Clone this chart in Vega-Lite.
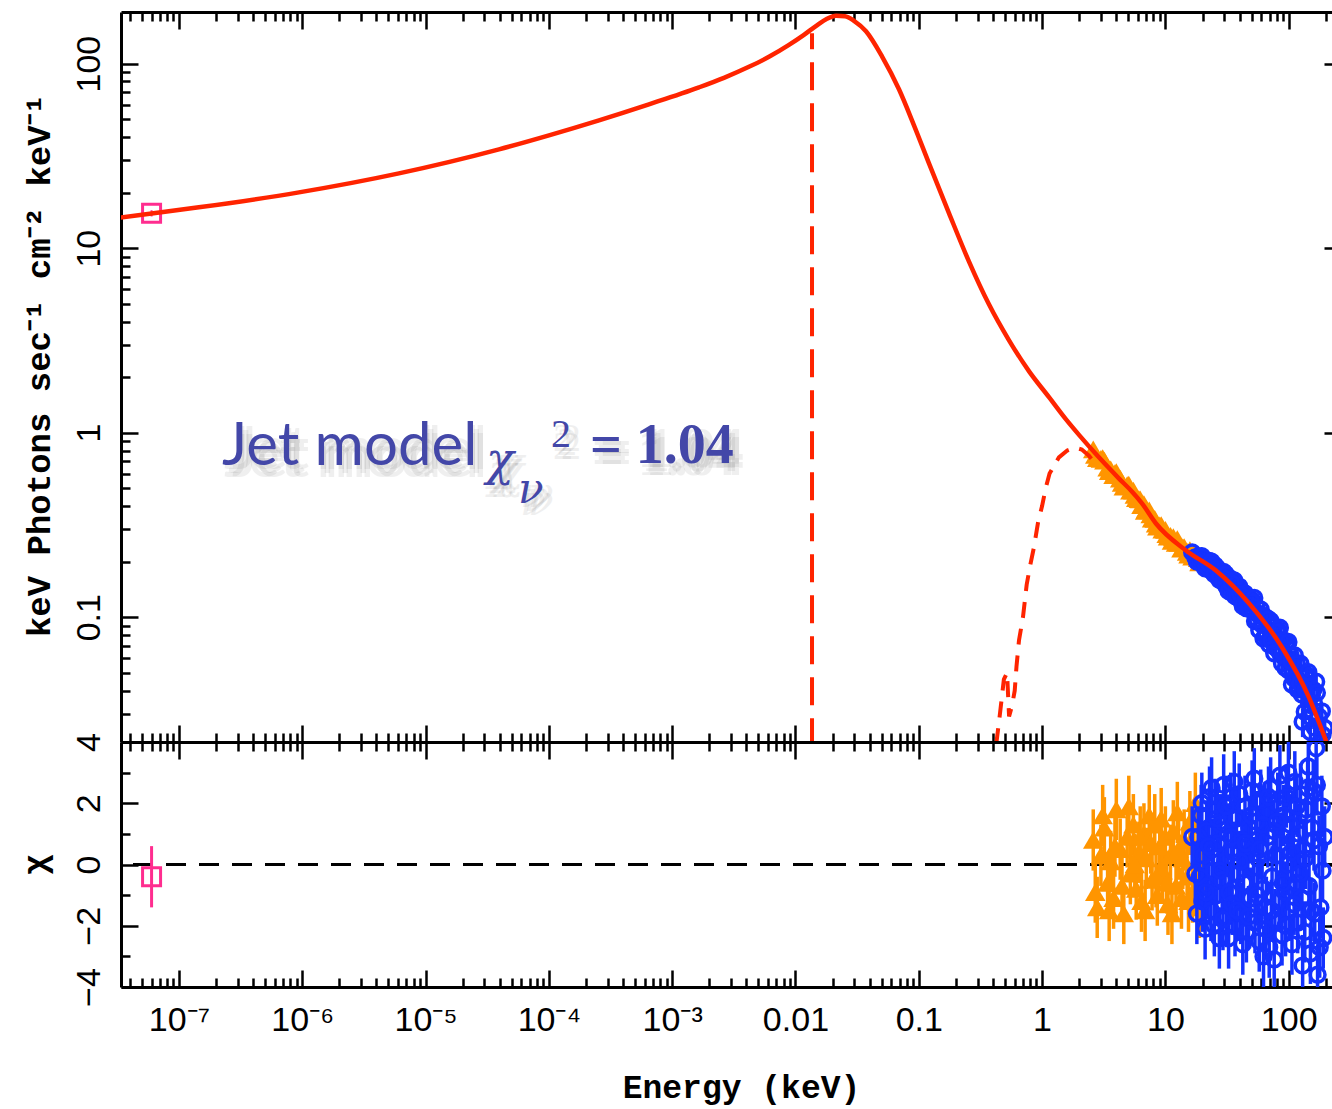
{
  "$schema": "https://vega.github.io/schema/vega-lite/v6.json",
  "background": "white",
  "padding": {"left": 18, "top": 10, "right": 0, "bottom": 4},
  "spacing": 0,
  "bounds": "flush",
  "config": {
    "view": {"stroke": null},
    "axis": {
      "grid": false,
      "domainColor": "black",
      "domainWidth": 3,
      "tickColor": "black",
      "tickWidth": 2.5,
      "labelColor": "black",
      "titleColor": "black",
      "labelOverlap": false,
      "labelBound": false,
      "labelFlush": false,
      "labelFont": "Liberation Sans",
      "labelFontSize": 34
    }
  },
  "datasets": {
    "model": [
      {"E": 3.0e-8, "F": 14.5}, {"E": 6.0e-8, "F": 15.4}, {"E": 1.45e-7, "F": 16.64},
      {"E": 9.4e-7, "F": 20.06}, {"E": 6.08e-6, "F": 25.43}, {"E": 3.94e-5, "F": 34.32},
      {"E": 1.002e-4, "F": 40.87}, {"E": 2.55e-4, "F": 49.28}, {"E": 6.48e-4, "F": 60.17},
      {"E": 1.65e-3, "F": 74.36}, {"E": 2.63e-3, "F": 83.76}, {"E": 4.196e-3, "F": 96.1},
      {"E": 6.098e-3, "F": 108.9}, {"E": 8.858e-3, "F": 126.4}, {"E": 0.01172, "F": 143.2},
      {"E": 0.01494, "F": 161.3}, {"E": 0.01801, "F": 174.9}, {"E": 0.02132, "F": 181.6},
      {"E": 0.02521, "F": 180.5}, {"E": 0.02982, "F": 170.6}, {"E": 0.03733, "F": 149.6},
      {"E": 0.0503, "F": 109.5}, {"E": 0.0691, "F": 72.56}, {"E": 0.09145, "F": 46.31},
      {"E": 0.121, "F": 28.81}, {"E": 0.176, "F": 15.44}, {"E": 0.255, "F": 8.48},
      {"E": 0.3707, "F": 4.96}, {"E": 0.5395, "F": 3.165}, {"E": 0.7847, "F": 2.149},
      {"E": 1.142, "F": 1.553}, {"E": 1.564, "F": 1.18}, {"E": 2.0, "F": 0.97},
      {"E": 2.89, "F": 0.735}, {"E": 4.21, "F": 0.564}, {"E": 5.35, "F": 0.48},
      {"E": 6.46, "F": 0.414}, {"E": 8.39, "F": 0.322}, {"E": 14.7, "F": 0.23},
      {"E": 25.7, "F": 0.179}, {"E": 47.6, "F": 0.119}, {"E": 88.2, "F": 0.0687},
      {"E": 146, "F": 0.0368}, {"E": 200, "F": 0.0215}, {"E": 240, "F": 0.0157}
    ],
    "cutoff": [{"E": 0.01362, "Flo": 0.02, "Fhi": 146}],
    "disk": [
      {"E": 0.425, "F": 0.0205}, {"E": 0.45, "F": 0.028}, {"E": 0.47, "F": 0.036},
      {"E": 0.49, "F": 0.046}, {"E": 0.52, "F": 0.05}, {"E": 0.54, "F": 0.029},
      {"E": 0.57, "F": 0.033}, {"E": 0.6, "F": 0.04}, {"E": 0.62, "F": 0.054},
      {"E": 0.65, "F": 0.075}, {"E": 0.7, "F": 0.1}, {"E": 0.75, "F": 0.15},
      {"E": 0.8, "F": 0.19}, {"E": 0.86, "F": 0.24}, {"E": 0.93, "F": 0.33},
      {"E": 1.0, "F": 0.4}, {"E": 1.07, "F": 0.5}, {"E": 1.15, "F": 0.6},
      {"E": 1.37, "F": 0.735}, {"E": 1.6, "F": 0.8}, {"E": 1.85, "F": 0.83},
      {"E": 2.1, "F": 0.81}, {"E": 2.4, "F": 0.75}, {"E": 2.8, "F": 0.66}
    ],
    "radio": [{"E": 6.0e-8, "F": 15.45, "Flo": 14.85, "Fhi": 16.05, "chi": -0.4, "chiLo": -1.4, "chiHi": 0.6}],
    "soft": [
      {"E": 2.6, "F": 0.812, "Flo": 0.792, "Fhi": 0.832, "chi": 0.8, "chiLo": -0.2, "chiHi": 1.8},
      {"E": 2.8, "F": 0.727, "Flo": 0.708, "Fhi": 0.746, "chi": -1.4, "chiLo": -2.4, "chiHi": -0.4},
      {"E": 3.0, "F": 0.721, "Flo": 0.703, "Fhi": 0.739, "chi": 0.3, "chiLo": -0.7, "chiHi": 1.3},
      {"E": 3.2, "F": 0.705, "Flo": 0.688, "Fhi": 0.722, "chi": 1.2, "chiLo": 0.2, "chiHi": 2.2},
      {"E": 3.4, "F": 0.646, "Flo": 0.630, "Fhi": 0.662, "chi": -0.6, "chiLo": -1.6, "chiHi": 0.4},
      {"E": 3.6, "F": 0.632, "Flo": 0.616, "Fhi": 0.648, "chi": 0.1, "chiLo": -0.9, "chiHi": 1.1},
      {"E": 3.8, "F": 0.588, "Flo": 0.573, "Fhi": 0.603, "chi": -1.1, "chiLo": -2.1, "chiHi": -0.1},
      {"E": 4.0, "F": 0.611, "Flo": 0.596, "Fhi": 0.626, "chi": 1.8, "chiLo": 0.8, "chiHi": 2.8},
      {"E": 4.3, "F": 0.563, "Flo": 0.549, "Fhi": 0.577, "chi": 0.5, "chiLo": -0.5, "chiHi": 1.5},
      {"E": 4.6, "F": 0.510, "Flo": 0.497, "Fhi": 0.523, "chi": -1.6, "chiLo": -2.6, "chiHi": -0.6},
      {"E": 4.9, "F": 0.520, "Flo": 0.507, "Fhi": 0.533, "chi": 0.9, "chiLo": -0.1, "chiHi": 1.9},
      {"E": 5.2, "F": 0.485, "Flo": 0.473, "Fhi": 0.497, "chi": -0.3, "chiLo": -1.3, "chiHi": 0.7},
      {"E": 5.5, "F": 0.485, "Flo": 0.473, "Fhi": 0.497, "chi": 1.3, "chiLo": 0.3, "chiHi": 2.3},
      {"E": 5.8, "F": 0.442, "Flo": 0.431, "Fhi": 0.453, "chi": -0.8, "chiLo": -1.8, "chiHi": 0.2},
      {"E": 6.1, "F": 0.437, "Flo": 0.426, "Fhi": 0.448, "chi": 0.4, "chiLo": -0.6, "chiHi": 1.4},
      {"E": 6.4, "F": 0.405, "Flo": 0.395, "Fhi": 0.415, "chi": -1.2, "chiLo": -2.2, "chiHi": -0.2},
      {"E": 6.7, "F": 0.410, "Flo": 0.400, "Fhi": 0.420, "chi": 1.0, "chiLo": 0.0, "chiHi": 2.0},
      {"E": 7.0, "F": 0.386, "Flo": 0.376, "Fhi": 0.396, "chi": 0.2, "chiLo": -0.8, "chiHi": 1.2},
      {"E": 7.4, "F": 0.379, "Flo": 0.370, "Fhi": 0.388, "chi": 1.6, "chiLo": 0.6, "chiHi": 2.6},
      {"E": 7.8, "F": 0.342, "Flo": 0.333, "Fhi": 0.351, "chi": -0.5, "chiLo": -1.5, "chiHi": 0.5},
      {"E": 8.2, "F": 0.341, "Flo": 0.333, "Fhi": 0.349, "chi": 1.3, "chiLo": 0.3, "chiHi": 2.3},
      {"E": 8.6, "F": 0.310, "Flo": 0.302, "Fhi": 0.318, "chi": -1.0, "chiLo": -2.0, "chiHi": 0.0},
      {"E": 9.0, "F": 0.314, "Flo": 0.306, "Fhi": 0.322, "chi": 0.6, "chiLo": -0.4, "chiHi": 1.6},
      {"E": 9.5, "F": 0.298, "Flo": 0.291, "Fhi": 0.305, "chi": -0.2, "chiLo": -1.2, "chiHi": 0.8},
      {"E": 10.0, "F": 0.297, "Flo": 0.290, "Fhi": 0.304, "chi": 0.9, "chiLo": -0.1, "chiHi": 1.9},
      {"E": 10.5, "F": 0.273, "Flo": 0.266, "Fhi": 0.280, "chi": -1.3, "chiLo": -2.3, "chiHi": -0.3},
      {"E": 11.0, "F": 0.276, "Flo": 0.269, "Fhi": 0.283, "chi": 0.3, "chiLo": -0.7, "chiHi": 1.3},
      {"E": 11.6, "F": 0.272, "Flo": 0.265, "Fhi": 0.279, "chi": 1.1, "chiLo": 0.1, "chiHi": 2.1},
      {"E": 12.2, "F": 0.253, "Flo": 0.247, "Fhi": 0.259, "chi": -0.7, "chiLo": -1.7, "chiHi": 0.3},
      {"E": 12.8, "F": 0.253, "Flo": 0.247, "Fhi": 0.259, "chi": 0.5, "chiLo": -0.5, "chiHi": 1.5},
      {"E": 13.5, "F": 0.235, "Flo": 0.229, "Fhi": 0.241, "chi": -1.1, "chiLo": -2.1, "chiHi": -0.1},
      {"E": 14.2, "F": 0.240, "Flo": 0.234, "Fhi": 0.246, "chi": 0.8, "chiLo": -0.2, "chiHi": 1.8},
      {"E": 15.0, "F": 0.226, "Flo": 0.220, "Fhi": 0.232, "chi": -0.4, "chiLo": -1.4, "chiHi": 0.6},
      {"E": 15.8, "F": 0.231, "Flo": 0.225, "Fhi": 0.237, "chi": 1.4, "chiLo": 0.4, "chiHi": 2.4},
      {"E": 16.6, "F": 0.213, "Flo": 0.208, "Fhi": 0.218, "chi": -0.9, "chiLo": -1.9, "chiHi": 0.1},
      {"E": 17.5, "F": 0.224, "Flo": 0.219, "Fhi": 0.229, "chi": 2.0, "chiLo": 1.0, "chiHi": 3.0},
      {"E": 18.4, "F": 0.209, "Flo": 0.204, "Fhi": 0.214, "chi": 0.1, "chiLo": -0.9, "chiHi": 1.1},
      {"E": 19.4, "F": 0.200, "Flo": 0.195, "Fhi": 0.205, "chi": -0.6, "chiLo": -1.6, "chiHi": 0.4},
      {"E": 2.7, "F": 0.757, "Flo": 0.738, "Fhi": 0.776, "chi": -0.9, "chiLo": -1.9, "chiHi": 0.1},
      {"E": 3.1, "F": 0.728, "Flo": 0.710, "Fhi": 0.746, "chi": 1.6, "chiLo": 0.6, "chiHi": 2.6},
      {"E": 3.5, "F": 0.619, "Flo": 0.603, "Fhi": 0.635, "chi": -1.5, "chiLo": -2.5, "chiHi": -0.5},
      {"E": 3.9, "F": 0.604, "Flo": 0.589, "Fhi": 0.619, "chi": 0.6, "chiLo": -0.4, "chiHi": 1.6},
      {"E": 4.45, "F": 0.534, "Flo": 0.520, "Fhi": 0.548, "chi": -0.7, "chiLo": -1.7, "chiHi": 0.3},
      {"E": 5.05, "F": 0.523, "Flo": 0.511, "Fhi": 0.535, "chi": 1.9, "chiLo": 0.9, "chiHi": 2.9},
      {"E": 5.65, "F": 0.460, "Flo": 0.448, "Fhi": 0.472, "chi": 0.0, "chiLo": -1.0, "chiHi": 1.0},
      {"E": 6.25, "F": 0.435, "Flo": 0.424, "Fhi": 0.446, "chi": 0.9, "chiLo": -0.1, "chiHi": 1.9},
      {"E": 6.85, "F": 0.377, "Flo": 0.367, "Fhi": 0.387, "chi": -1.5, "chiLo": -2.5, "chiHi": -0.5},
      {"E": 7.6, "F": 0.361, "Flo": 0.352, "Fhi": 0.370, "chi": 0.7, "chiLo": -0.3, "chiHi": 1.7},
      {"E": 8.4, "F": 0.321, "Flo": 0.313, "Fhi": 0.329, "chi": -0.4, "chiLo": -1.4, "chiHi": 0.6},
      {"E": 9.25, "F": 0.315, "Flo": 0.307, "Fhi": 0.323, "chi": 1.5, "chiLo": 0.5, "chiHi": 2.5},
      {"E": 10.25, "F": 0.282, "Flo": 0.275, "Fhi": 0.289, "chi": -0.6, "chiLo": -1.6, "chiHi": 0.4},
      {"E": 11.3, "F": 0.259, "Flo": 0.252, "Fhi": 0.266, "chi": -1.6, "chiLo": -2.6, "chiHi": -0.6},
      {"E": 12.5, "F": 0.265, "Flo": 0.259, "Fhi": 0.271, "chi": 1.7, "chiLo": 0.7, "chiHi": 2.7},
      {"E": 13.85, "F": 0.239, "Flo": 0.233, "Fhi": 0.245, "chi": 0.2, "chiLo": -0.8, "chiHi": 1.2},
      {"E": 15.4, "F": 0.218, "Flo": 0.212, "Fhi": 0.224, "chi": -1.2, "chiLo": -2.2, "chiHi": -0.2},
      {"E": 17.05, "F": 0.218, "Flo": 0.213, "Fhi": 0.223, "chi": 0.6, "chiLo": -0.4, "chiHi": 1.6},
      {"E": 18.9, "F": 0.198, "Flo": 0.193, "Fhi": 0.203, "chi": -1.4, "chiLo": -2.4, "chiHi": -0.4}
    ],
    "hard": [
      {"E": 16.5, "F": 0.2245, "Flo": 0.2179, "Fhi": 0.2311, "chi": 0.9, "chiLo": -0.1, "chiHi": 1.9},
      {"E": 17.5, "F": 0.2110, "Flo": 0.2046, "Fhi": 0.2174, "chi": -0.3, "chiLo": -1.3, "chiHi": 0.7},
      {"E": 18.5, "F": 0.2133, "Flo": 0.2071, "Fhi": 0.2195, "chi": 0.9, "chiLo": -0.1, "chiHi": 1.9},
      {"E": 19.0, "F": 0.2028, "Flo": 0.1966, "Fhi": 0.2090, "chi": -0.4, "chiLo": -1.4, "chiHi": 0.6},
      {"E": 19.5, "F": 0.2126, "Flo": 0.2065, "Fhi": 0.2187, "chi": 1.6, "chiLo": 0.6, "chiHi": 2.6},
      {"E": 20.0, "F": 0.1935, "Flo": 0.1875, "Fhi": 0.1995, "chi": -1.2, "chiLo": -2.2, "chiHi": -0.2},
      {"E": 20.5, "F": 0.2003, "Flo": 0.1943, "Fhi": 0.2063, "chi": 0.3, "chiLo": -0.7, "chiHi": 1.3},
      {"E": 21.0, "F": 0.1840, "Flo": 0.1781, "Fhi": 0.1899, "chi": -2.1, "chiLo": -3.1, "chiHi": -1.1},
      {"E": 21.6, "F": 0.2004, "Flo": 0.1946, "Fhi": 0.2062, "chi": 1.1, "chiLo": 0.1, "chiHi": 2.1},
      {"E": 22.2, "F": 0.1876, "Flo": 0.1819, "Fhi": 0.1933, "chi": -0.7, "chiLo": -1.7, "chiHi": 0.3},
      {"E": 22.8, "F": 0.2019, "Flo": 0.1962, "Fhi": 0.2076, "chi": 2.2, "chiLo": 1.2, "chiHi": 3.2},
      {"E": 23.4, "F": 0.1788, "Flo": 0.1732, "Fhi": 0.1844, "chi": -1.5, "chiLo": -2.5, "chiHi": -0.5},
      {"E": 24.0, "F": 0.1879, "Flo": 0.1823, "Fhi": 0.1935, "chi": 0.5, "chiLo": -0.5, "chiHi": 1.5},
      {"E": 24.6, "F": 0.1819, "Flo": 0.1764, "Fhi": 0.1874, "chi": -0.2, "chiLo": -1.2, "chiHi": 0.8},
      {"E": 25.3, "F": 0.1906, "Flo": 0.1852, "Fhi": 0.1960, "chi": 1.8, "chiLo": 0.8, "chiHi": 2.8},
      {"E": 26.0, "F": 0.1728, "Flo": 0.1675, "Fhi": 0.1781, "chi": -1.0, "chiLo": -2.0, "chiHi": 0.0},
      {"E": 26.7, "F": 0.1787, "Flo": 0.1734, "Fhi": 0.1840, "chi": 0.7, "chiLo": -0.3, "chiHi": 1.7},
      {"E": 27.4, "F": 0.1595, "Flo": 0.1543, "Fhi": 0.1647, "chi": -2.4, "chiLo": -3.4, "chiHi": -1.4},
      {"E": 28.1, "F": 0.1756, "Flo": 0.1705, "Fhi": 0.1807, "chi": 1.3, "chiLo": 0.3, "chiHi": 2.3},
      {"E": 28.9, "F": 0.1635, "Flo": 0.1585, "Fhi": 0.1685, "chi": -0.5, "chiLo": -1.5, "chiHi": 0.5},
      {"E": 29.7, "F": 0.1757, "Flo": 0.1708, "Fhi": 0.1806, "chi": 2.6, "chiLo": 1.6, "chiHi": 3.6},
      {"E": 30.5, "F": 0.1607, "Flo": 0.1543, "Fhi": 0.1671, "chi": 0.1, "chiLo": -0.9, "chiHi": 1.1},
      {"E": 31.3, "F": 0.1467, "Flo": 0.1404, "Fhi": 0.1530, "chi": -1.7, "chiLo": -2.7, "chiHi": -0.7},
      {"E": 32.1, "F": 0.1609, "Flo": 0.1547, "Fhi": 0.1671, "chi": 1.0, "chiLo": 0.0, "chiHi": 2.0},
      {"E": 33.0, "F": 0.1464, "Flo": 0.1403, "Fhi": 0.1525, "chi": -0.9, "chiLo": -1.9, "chiHi": 0.1},
      {"E": 33.9, "F": 0.1611, "Flo": 0.1551, "Fhi": 0.1671, "chi": 2.0, "chiLo": 1.0, "chiHi": 3.0},
      {"E": 34.8, "F": 0.1390, "Flo": 0.1331, "Fhi": 0.1449, "chi": -1.3, "chiLo": -2.3, "chiHi": -0.3},
      {"E": 35.7, "F": 0.1464, "Flo": 0.1406, "Fhi": 0.1522, "chi": 0.4, "chiLo": -0.6, "chiHi": 1.4},
      {"E": 36.7, "F": 0.1302, "Flo": 0.1245, "Fhi": 0.1359, "chi": -2.0, "chiLo": -3.0, "chiHi": -1.0},
      {"E": 37.7, "F": 0.1473, "Flo": 0.1417, "Fhi": 0.1529, "chi": 1.5, "chiLo": 0.5, "chiHi": 2.5},
      {"E": 38.7, "F": 0.1350, "Flo": 0.1295, "Fhi": 0.1405, "chi": -0.3, "chiLo": -1.3, "chiHi": 0.7},
      {"E": 39.7, "F": 0.1465, "Flo": 0.1411, "Fhi": 0.1519, "chi": 2.3, "chiLo": 1.3, "chiHi": 3.3},
      {"E": 40.8, "F": 0.1234, "Flo": 0.1181, "Fhi": 0.1287, "chi": -1.6, "chiLo": -2.6, "chiHi": -0.6},
      {"E": 41.9, "F": 0.1336, "Flo": 0.1284, "Fhi": 0.1388, "chi": 0.8, "chiLo": -0.2, "chiHi": 1.8},
      {"E": 43.0, "F": 0.1241, "Flo": 0.1190, "Fhi": 0.1292, "chi": -0.6, "chiLo": -1.6, "chiHi": 0.4},
      {"E": 44.2, "F": 0.1344, "Flo": 0.1294, "Fhi": 0.1394, "chi": 1.9, "chiLo": 0.9, "chiHi": 2.9},
      {"E": 45.4, "F": 0.1119, "Flo": 0.1070, "Fhi": 0.1168, "chi": -2.2, "chiLo": -3.2, "chiHi": -1.2},
      {"E": 46.6, "F": 0.1235, "Flo": 0.1187, "Fhi": 0.1283, "chi": 0.6, "chiLo": -0.4, "chiHi": 1.6},
      {"E": 47.9, "F": 0.1240, "Flo": 0.1193, "Fhi": 0.1287, "chi": 1.2, "chiLo": 0.2, "chiHi": 2.2},
      {"E": 49.2, "F": 0.1104, "Flo": 0.1058, "Fhi": 0.1150, "chi": -1.1, "chiLo": -2.1, "chiHi": -0.1},
      {"E": 50.5, "F": 0.1237, "Flo": 0.1192, "Fhi": 0.1282, "chi": 2.4, "chiLo": 1.4, "chiHi": 3.4},
      {"E": 51.9, "F": 0.1095, "Flo": 0.1029, "Fhi": 0.1161, "chi": -0.1, "chiLo": -1.1, "chiHi": 0.9},
      {"E": 53.3, "F": 0.0953, "Flo": 0.0888, "Fhi": 0.1018, "chi": -1.9, "chiLo": -2.9, "chiHi": -0.9},
      {"E": 54.7, "F": 0.1139, "Flo": 0.1076, "Fhi": 0.1202, "chi": 1.4, "chiLo": 0.4, "chiHi": 2.4},
      {"E": 56.2, "F": 0.1038, "Flo": 0.0976, "Fhi": 0.1100, "chi": 0.2, "chiLo": -0.8, "chiHi": 1.2},
      {"E": 57.7, "F": 0.0853, "Flo": 0.0793, "Fhi": 0.0913, "chi": -2.5, "chiLo": -3.5, "chiHi": -1.5},
      {"E": 59.3, "F": 0.1101, "Flo": 0.1042, "Fhi": 0.1160, "chi": 2.1, "chiLo": 1.1, "chiHi": 3.1},
      {"E": 60.9, "F": 0.0909, "Flo": 0.0852, "Fhi": 0.0966, "chi": -0.8, "chiLo": -1.8, "chiHi": 0.2},
      {"E": 62.5, "F": 0.0766, "Flo": 0.0710, "Fhi": 0.0822, "chi": -3.0, "chiLo": -4.0, "chiHi": -2.0},
      {"E": 64.2, "F": 0.1005, "Flo": 0.0950, "Fhi": 0.1060, "chi": 1.7, "chiLo": 0.7, "chiHi": 2.7},
      {"E": 65.9, "F": 0.0816, "Flo": 0.0763, "Fhi": 0.0869, "chi": -1.4, "chiLo": -2.4, "chiHi": -0.4},
      {"E": 67.7, "F": 0.0917, "Flo": 0.0865, "Fhi": 0.0969, "chi": 0.9, "chiLo": -0.1, "chiHi": 1.9},
      {"E": 69.5, "F": 0.0712, "Flo": 0.0661, "Fhi": 0.0763, "chi": -2.7, "chiLo": -3.7, "chiHi": -1.7},
      {"E": 71.4, "F": 0.0955, "Flo": 0.0905, "Fhi": 0.1005, "chi": 2.5, "chiLo": 1.5, "chiHi": 3.5},
      {"E": 73.3, "F": 0.0792, "Flo": 0.0743, "Fhi": 0.0841, "chi": -0.4, "chiLo": -1.4, "chiHi": 0.6},
      {"E": 75.3, "F": 0.0844, "Flo": 0.0796, "Fhi": 0.0892, "chi": 1.1, "chiLo": 0.1, "chiHi": 2.1},
      {"E": 77.3, "F": 0.0690, "Flo": 0.0644, "Fhi": 0.0736, "chi": -1.8, "chiLo": -2.8, "chiHi": -0.8},
      {"E": 79.4, "F": 0.0769, "Flo": 0.0724, "Fhi": 0.0814, "chi": 0.3, "chiLo": -0.7, "chiHi": 1.3},
      {"E": 81.5, "F": 0.0856, "Flo": 0.0797, "Fhi": 0.0915, "chi": 2.0, "chiLo": 1.0, "chiHi": 3.0},
      {"E": 83.7, "F": 0.0652, "Flo": 0.0594, "Fhi": 0.0710, "chi": -1.2, "chiLo": -2.2, "chiHi": -0.2},
      {"E": 86.0, "F": 0.0743, "Flo": 0.0687, "Fhi": 0.0799, "chi": 0.7, "chiLo": -0.3, "chiHi": 1.7},
      {"E": 88.3, "F": 0.0561, "Flo": 0.0506, "Fhi": 0.0616, "chi": -2.3, "chiLo": -3.3, "chiHi": -1.3},
      {"E": 90.7, "F": 0.0750, "Flo": 0.0697, "Fhi": 0.0803, "chi": 1.6, "chiLo": 0.6, "chiHi": 2.6},
      {"E": 93.1, "F": 0.0597, "Flo": 0.0546, "Fhi": 0.0648, "chi": -0.9, "chiLo": -1.9, "chiHi": 0.1},
      {"E": 95.6, "F": 0.0731, "Flo": 0.0681, "Fhi": 0.0781, "chi": 2.2, "chiLo": 1.2, "chiHi": 3.2},
      {"E": 98.2, "F": 0.0602, "Flo": 0.0554, "Fhi": 0.0650, "chi": 0.0, "chiLo": -1.0, "chiHi": 1.0},
      {"E": 100.8, "F": 0.0513, "Flo": 0.0466, "Fhi": 0.0560, "chi": -1.5, "chiLo": -2.5, "chiHi": -0.5},
      {"E": 103.5, "F": 0.0623, "Flo": 0.0578, "Fhi": 0.0668, "chi": 1.3, "chiLo": 0.3, "chiHi": 2.3},
      {"E": 106.3, "F": 0.0432, "Flo": 0.0388, "Fhi": 0.0476, "chi": -2.6, "chiLo": -3.6, "chiHi": -1.6},
      {"E": 109.2, "F": 0.0562, "Flo": 0.0520, "Fhi": 0.0604, "chi": 0.8, "chiLo": -0.2, "chiHi": 1.8},
      {"E": 112.1, "F": 0.0621, "Flo": 0.0580, "Fhi": 0.0662, "chi": 2.7, "chiLo": 1.7, "chiHi": 3.7},
      {"E": 115.1, "F": 0.0470, "Flo": 0.0430, "Fhi": 0.0510, "chi": -0.6, "chiLo": -1.6, "chiHi": 0.4},
      {"E": 118.2, "F": 0.0405, "Flo": 0.0367, "Fhi": 0.0443, "chi": -1.9, "chiLo": -2.9, "chiHi": -0.9},
      {"E": 121.4, "F": 0.0500, "Flo": 0.0463, "Fhi": 0.0537, "chi": 1.0, "chiLo": 0.0, "chiHi": 2.0},
      {"E": 124.7, "F": 0.0560, "Flo": 0.0511, "Fhi": 0.0609, "chi": 2.3, "chiLo": 1.3, "chiHi": 3.3},
      {"E": 128.0, "F": 0.0381, "Flo": 0.0333, "Fhi": 0.0429, "chi": -1.1, "chiLo": -2.1, "chiHi": -0.1},
      {"E": 131.5, "F": 0.0442, "Flo": 0.0396, "Fhi": 0.0488, "chi": 0.5, "chiLo": -0.5, "chiHi": 1.5},
      {"E": 135.0, "F": 0.0307, "Flo": 0.0262, "Fhi": 0.0352, "chi": -2.2, "chiLo": -3.2, "chiHi": -1.2},
      {"E": 138.6, "F": 0.0470, "Flo": 0.0427, "Fhi": 0.0513, "chi": 1.8, "chiLo": 0.8, "chiHi": 2.8},
      {"E": 142.4, "F": 0.0483, "Flo": 0.0441, "Fhi": 0.0525, "chi": 2.5, "chiLo": 1.5, "chiHi": 3.5},
      {"E": 146.2, "F": 0.0339, "Flo": 0.0299, "Fhi": 0.0379, "chi": -0.7, "chiLo": -1.7, "chiHi": 0.3},
      {"E": 150.1, "F": 0.0239, "Flo": 0.0200, "Fhi": 0.0278, "chi": -2.9, "chiLo": -3.9, "chiHi": -1.9},
      {"E": 154.2, "F": 0.0379, "Flo": 0.0342, "Fhi": 0.0416, "chi": 1.2, "chiLo": 0.2, "chiHi": 2.2},
      {"E": 158.3, "F": 0.0404, "Flo": 0.0369, "Fhi": 0.0439, "chi": 2.4, "chiLo": 1.4, "chiHi": 3.4},
      {"E": 162.6, "F": 0.0252, "Flo": 0.0218, "Fhi": 0.0286, "chi": -1.6, "chiLo": -2.6, "chiHi": -0.6},
      {"E": 167.0, "F": 0.0447, "Flo": 0.0406, "Fhi": 0.0488, "chi": 3.8, "chiLo": 2.8, "chiHi": 4.8},
      {"E": 171.5, "F": 0.0138, "Flo": 0.0099, "Fhi": 0.0177, "chi": -3.6, "chiLo": -4.6, "chiHi": -2.6},
      {"E": 176.1, "F": 0.0289, "Flo": 0.0252, "Fhi": 0.0326, "chi": 0.6, "chiLo": -0.4, "chiHi": 1.6},
      {"E": 180.8, "F": 0.0205, "Flo": 0.0169, "Fhi": 0.0241, "chi": -1.4, "chiLo": -2.4, "chiHi": -0.4},
      {"E": 185.7, "F": 0.0309, "Flo": 0.0275, "Fhi": 0.0343, "chi": 1.9, "chiLo": 0.9, "chiHi": 2.9},
      {"E": 190.7, "F": 0.0155, "Flo": 0.0122, "Fhi": 0.0188, "chi": -2.4, "chiLo": -3.4, "chiHi": -1.4},
      {"E": 195.8, "F": 0.0251, "Flo": 0.0220, "Fhi": 0.0282, "chi": 0.9, "chiLo": -0.1, "chiHi": 1.9},
      {"E": 18.0, "F": 0.2002, "Flo": 0.1939, "Fhi": 0.2065, "chi": -1.6, "chiLo": -2.6, "chiHi": -0.6},
      {"E": 19.75, "F": 0.2139, "Flo": 0.2078, "Fhi": 0.2200, "chi": 2.0, "chiLo": 1.0, "chiHi": 3.0},
      {"E": 21.3, "F": 0.1899, "Flo": 0.1840, "Fhi": 0.1958, "chi": -0.9, "chiLo": -1.9, "chiHi": 0.1},
      {"E": 22.5, "F": 0.1939, "Flo": 0.1882, "Fhi": 0.1996, "chi": 0.6, "chiLo": -0.4, "chiHi": 1.6},
      {"E": 23.7, "F": 0.2001, "Flo": 0.1945, "Fhi": 0.2057, "chi": 2.5, "chiLo": 1.5, "chiHi": 3.5},
      {"E": 24.95, "F": 0.1710, "Flo": 0.1655, "Fhi": 0.1765, "chi": -2.0, "chiLo": -3.0, "chiHi": -1.0},
      {"E": 26.35, "F": 0.1844, "Flo": 0.1791, "Fhi": 0.1897, "chi": 1.5, "chiLo": 0.5, "chiHi": 2.5},
      {"E": 27.75, "F": 0.1694, "Flo": 0.1643, "Fhi": 0.1745, "chi": -0.2, "chiLo": -1.2, "chiHi": 0.8},
      {"E": 29.3, "F": 0.1556, "Flo": 0.1507, "Fhi": 0.1605, "chi": -1.8, "chiLo": -2.8, "chiHi": -0.8},
      {"E": 30.9, "F": 0.1708, "Flo": 0.1645, "Fhi": 0.1771, "chi": 1.9, "chiLo": 0.9, "chiHi": 2.9},
      {"E": 32.55, "F": 0.1386, "Flo": 0.1325, "Fhi": 0.1447, "chi": -2.4, "chiLo": -3.4, "chiHi": -1.4},
      {"E": 34.35, "F": 0.1532, "Flo": 0.1473, "Fhi": 0.1591, "chi": 0.9, "chiLo": -0.1, "chiHi": 1.9},
      {"E": 36.2, "F": 0.1582, "Flo": 0.1525, "Fhi": 0.1639, "chi": 2.7, "chiLo": 1.7, "chiHi": 3.7},
      {"E": 38.2, "F": 0.1295, "Flo": 0.1240, "Fhi": 0.1350, "chi": -1.5, "chiLo": -2.5, "chiHi": -0.5},
      {"E": 40.25, "F": 0.1335, "Flo": 0.1282, "Fhi": 0.1388, "chi": 0.1, "chiLo": -0.9, "chiHi": 1.1},
      {"E": 42.45, "F": 0.1150, "Flo": 0.1099, "Fhi": 0.1201, "chi": -2.6, "chiLo": -3.6, "chiHi": -1.6},
      {"E": 44.8, "F": 0.1273, "Flo": 0.1223, "Fhi": 0.1323, "chi": 0.7, "chiLo": -0.3, "chiHi": 1.7},
      {"E": 47.25, "F": 0.1113, "Flo": 0.1065, "Fhi": 0.1161, "chi": -1.7, "chiLo": -2.7, "chiHi": -0.7},
      {"E": 49.85, "F": 0.1215, "Flo": 0.1169, "Fhi": 0.1261, "chi": 1.6, "chiLo": 0.6, "chiHi": 2.6},
      {"E": 52.6, "F": 0.1272, "Flo": 0.1207, "Fhi": 0.1337, "chi": 2.8, "chiLo": 1.8, "chiHi": 3.8},
      {"E": 55.45, "F": 0.0976, "Flo": 0.0914, "Fhi": 0.1038, "chi": -1.0, "chiLo": -2.0, "chiHi": 0.0},
      {"E": 58.5, "F": 0.1020, "Flo": 0.0961, "Fhi": 0.1079, "chi": 0.5, "chiLo": -0.5, "chiHi": 1.5},
      {"E": 61.7, "F": 0.1018, "Flo": 0.0961, "Fhi": 0.1075, "chi": 1.3, "chiLo": 0.3, "chiHi": 2.3},
      {"E": 65.05, "F": 0.0787, "Flo": 0.0733, "Fhi": 0.0841, "chi": -2.1, "chiLo": -3.1, "chiHi": -1.1},
      {"E": 68.6, "F": 0.0974, "Flo": 0.0922, "Fhi": 0.1026, "chi": 2.2, "chiLo": 1.2, "chiHi": 3.2},
      {"E": 72.35, "F": 0.0746, "Flo": 0.0697, "Fhi": 0.0795, "chi": -1.5, "chiLo": -2.5, "chiHi": -0.5},
      {"E": 76.3, "F": 0.0637, "Flo": 0.0590, "Fhi": 0.0684, "chi": -3.1, "chiLo": -4.1, "chiHi": -2.1},
      {"E": 80.45, "F": 0.0830, "Flo": 0.0770, "Fhi": 0.0890, "chi": 1.4, "chiLo": 0.4, "chiHi": 2.4},
      {"E": 84.85, "F": 0.0877, "Flo": 0.0820, "Fhi": 0.0934, "chi": 2.9, "chiLo": 1.9, "chiHi": 3.9},
      {"E": 89.5, "F": 0.0644, "Flo": 0.0590, "Fhi": 0.0698, "chi": -0.6, "chiLo": -1.6, "chiHi": 0.4},
      {"E": 94.35, "F": 0.0531, "Flo": 0.0480, "Fhi": 0.0582, "chi": -2.0, "chiLo": -3.0, "chiHi": -1.0},
      {"E": 99.5, "F": 0.0734, "Flo": 0.0687, "Fhi": 0.0781, "chi": 3.0, "chiLo": 2.0, "chiHi": 4.0},
      {"E": 104.9, "F": 0.0573, "Flo": 0.0529, "Fhi": 0.0617, "chi": 0.4, "chiLo": -0.6, "chiHi": 1.4},
      {"E": 110.65, "F": 0.0465, "Flo": 0.0423, "Fhi": 0.0507, "chi": -1.3, "chiLo": -2.3, "chiHi": -0.3},
      {"E": 116.65, "F": 0.0560, "Flo": 0.0521, "Fhi": 0.0599, "chi": 1.9, "chiLo": 0.9, "chiHi": 2.9},
      {"E": 123.05, "F": 0.0440, "Flo": 0.0390, "Fhi": 0.0490, "chi": -0.3, "chiLo": -1.3, "chiHi": 0.7},
      {"E": 129.75, "F": 0.0271, "Flo": 0.0224, "Fhi": 0.0318, "chi": -3.3, "chiLo": -4.3, "chiHi": -2.3},
      {"E": 136.8, "F": 0.0407, "Flo": 0.0363, "Fhi": 0.0451, "chi": 0.2, "chiLo": -0.8, "chiHi": 1.2},
      {"E": 144.3, "F": 0.0504, "Flo": 0.0463, "Fhi": 0.0545, "chi": 3.2, "chiLo": 2.2, "chiHi": 4.2},
      {"E": 152.15, "F": 0.0286, "Flo": 0.0248, "Fhi": 0.0324, "chi": -1.5, "chiLo": -2.5, "chiHi": -0.5},
      {"E": 160.45, "F": 0.0341, "Flo": 0.0307, "Fhi": 0.0375, "chi": 0.8, "chiLo": -0.2, "chiHi": 1.8},
      {"E": 169.25, "F": 0.0389, "Flo": 0.0349, "Fhi": 0.0429, "chi": 2.6, "chiLo": 1.6, "chiHi": 3.6},
      {"E": 178.45, "F": 0.0162, "Flo": 0.0125, "Fhi": 0.0199, "chi": -2.7, "chiLo": -3.7, "chiHi": -1.7},
      {"E": 188.2, "F": 0.0231, "Flo": 0.0198, "Fhi": 0.0264, "chi": -0.2, "chiLo": -1.2, "chiHi": 0.8}
    ]
  },
  "vconcat": [
    {
      "width": 1220,
      "height": 730,
      "resolve": {"axis": {"x": "independent", "y": "independent"}},
      "layer": [
        {
          "data": {"values": [{}]},
          "encoding": {
            "x": {"datum": 2.232e-7, "type": "quantitative", "scale": {"type": "log", "domain": [3.39e-8, 265.6], "nice": false}, "axis": null},
            "y": {"datum": 0.665, "type": "quantitative", "scale": {"type": "log", "domain": [0.02107, 190.4], "nice": false}, "axis": null}
          },
          "layer": [
            {"mark": {"type": "text", "text": "Jet model", "font": "Lato", "fontSize": 60, "align": "left", "baseline": "alphabetic", "dx": 2, "dy": 4, "color": "#333333", "opacity": 0.07}},
            {"mark": {"type": "text", "text": "Jet model", "font": "Lato", "fontSize": 60, "align": "left", "baseline": "alphabetic", "dx": 10, "dy": 4, "color": "#333333", "opacity": 0.07}},
            {"mark": {"type": "text", "text": "Jet model", "font": "Lato", "fontSize": 60, "align": "left", "baseline": "alphabetic", "dx": 2, "dy": 12, "color": "#333333", "opacity": 0.07}},
            {"mark": {"type": "text", "text": "Jet model", "font": "Lato", "fontSize": 60, "align": "left", "baseline": "alphabetic", "dx": 10, "dy": 12, "color": "#333333", "opacity": 0.07}},
            {"mark": {"type": "text", "text": "Jet model", "font": "Lato", "fontSize": 60, "align": "left", "baseline": "alphabetic", "dx": 6, "dy": 8, "color": "#333333", "opacity": 0.07}},
            {"mark": {"type": "text", "text": "χ", "font": "DejaVu Serif", "fontStyle": "italic", "fontSize": 46, "align": "left", "baseline": "alphabetic", "dx": 266, "dy": 14, "color": "#333333", "opacity": 0.07}},
            {"mark": {"type": "text", "text": "χ", "font": "DejaVu Serif", "fontStyle": "italic", "fontSize": 46, "align": "left", "baseline": "alphabetic", "dx": 274, "dy": 14, "color": "#333333", "opacity": 0.07}},
            {"mark": {"type": "text", "text": "χ", "font": "DejaVu Serif", "fontStyle": "italic", "fontSize": 46, "align": "left", "baseline": "alphabetic", "dx": 266, "dy": 22, "color": "#333333", "opacity": 0.07}},
            {"mark": {"type": "text", "text": "χ", "font": "DejaVu Serif", "fontStyle": "italic", "fontSize": 46, "align": "left", "baseline": "alphabetic", "dx": 274, "dy": 22, "color": "#333333", "opacity": 0.07}},
            {"mark": {"type": "text", "text": "χ", "font": "DejaVu Serif", "fontStyle": "italic", "fontSize": 46, "align": "left", "baseline": "alphabetic", "dx": 270, "dy": 18, "color": "#333333", "opacity": 0.07}},
            {"mark": {"type": "text", "text": "ν", "font": "DejaVu Serif", "fontStyle": "italic", "fontSize": 42, "align": "left", "baseline": "alphabetic", "dx": 298, "dy": 42, "color": "#333333", "opacity": 0.07}},
            {"mark": {"type": "text", "text": "ν", "font": "DejaVu Serif", "fontStyle": "italic", "fontSize": 42, "align": "left", "baseline": "alphabetic", "dx": 306, "dy": 42, "color": "#333333", "opacity": 0.07}},
            {"mark": {"type": "text", "text": "ν", "font": "DejaVu Serif", "fontStyle": "italic", "fontSize": 42, "align": "left", "baseline": "alphabetic", "dx": 298, "dy": 50, "color": "#333333", "opacity": 0.07}},
            {"mark": {"type": "text", "text": "ν", "font": "DejaVu Serif", "fontStyle": "italic", "fontSize": 42, "align": "left", "baseline": "alphabetic", "dx": 306, "dy": 50, "color": "#333333", "opacity": 0.07}},
            {"mark": {"type": "text", "text": "ν", "font": "DejaVu Serif", "fontStyle": "italic", "fontSize": 42, "align": "left", "baseline": "alphabetic", "dx": 302, "dy": 46, "color": "#333333", "opacity": 0.07}},
            {"mark": {"type": "text", "text": "2", "font": "Liberation Serif", "fontSize": 40, "align": "left", "baseline": "alphabetic", "dx": 331, "dy": -14, "color": "#333333", "opacity": 0.07}},
            {"mark": {"type": "text", "text": "2", "font": "Liberation Serif", "fontSize": 40, "align": "left", "baseline": "alphabetic", "dx": 339, "dy": -14, "color": "#333333", "opacity": 0.07}},
            {"mark": {"type": "text", "text": "2", "font": "Liberation Serif", "fontSize": 40, "align": "left", "baseline": "alphabetic", "dx": 331, "dy": -6, "color": "#333333", "opacity": 0.07}},
            {"mark": {"type": "text", "text": "2", "font": "Liberation Serif", "fontSize": 40, "align": "left", "baseline": "alphabetic", "dx": 339, "dy": -6, "color": "#333333", "opacity": 0.07}},
            {"mark": {"type": "text", "text": "2", "font": "Liberation Serif", "fontSize": 40, "align": "left", "baseline": "alphabetic", "dx": 335, "dy": -10, "color": "#333333", "opacity": 0.07}},
            {"mark": {"type": "text", "text": "= 1.04", "font": "Liberation Serif", "fontWeight": "bold", "fontSize": 56, "align": "left", "baseline": "alphabetic", "dx": 370, "dy": 2, "color": "#333333", "opacity": 0.07}},
            {"mark": {"type": "text", "text": "= 1.04", "font": "Liberation Serif", "fontWeight": "bold", "fontSize": 56, "align": "left", "baseline": "alphabetic", "dx": 378, "dy": 2, "color": "#333333", "opacity": 0.07}},
            {"mark": {"type": "text", "text": "= 1.04", "font": "Liberation Serif", "fontWeight": "bold", "fontSize": 56, "align": "left", "baseline": "alphabetic", "dx": 370, "dy": 10, "color": "#333333", "opacity": 0.07}},
            {"mark": {"type": "text", "text": "= 1.04", "font": "Liberation Serif", "fontWeight": "bold", "fontSize": 56, "align": "left", "baseline": "alphabetic", "dx": 378, "dy": 10, "color": "#333333", "opacity": 0.07}},
            {"mark": {"type": "text", "text": "= 1.04", "font": "Liberation Serif", "fontWeight": "bold", "fontSize": 56, "align": "left", "baseline": "alphabetic", "dx": 374, "dy": 6, "color": "#333333", "opacity": 0.07}},
            {"mark": {"type": "text", "text": "Jet model", "font": "Lato", "fontSize": 60, "align": "left", "baseline": "alphabetic", "color": "#4347a8"}},
            {"mark": {"type": "text", "text": "χ", "font": "DejaVu Serif", "fontStyle": "italic", "fontSize": 46, "align": "left", "baseline": "alphabetic", "dx": 264, "dy": 10, "color": "#4347a8"}},
            {"mark": {"type": "text", "text": "ν", "font": "DejaVu Serif", "fontStyle": "italic", "fontSize": 42, "align": "left", "baseline": "alphabetic", "dx": 296, "dy": 38, "color": "#4347a8"}},
            {"mark": {"type": "text", "text": "2", "font": "Liberation Serif", "fontSize": 40, "align": "left", "baseline": "alphabetic", "dx": 329, "dy": -18, "color": "#4347a8"}},
            {"mark": {"type": "text", "text": "= 1.04", "font": "Liberation Serif", "fontWeight": "bold", "fontSize": 56, "align": "left", "baseline": "alphabetic", "dx": 368, "dy": -2, "color": "#4347a8"}}
          ]
        },
        {
          "data": {"name": "soft"},
          "mark": {"type": "rule", "color": "#ff9500", "strokeWidth": 3, "clip": true},
          "encoding": {
            "x": {"field": "E", "type": "quantitative", "scale": {"type": "log", "domain": [3.39e-8, 265.6], "nice": false}, "axis": null},
            "y": {"field": "Flo", "type": "quantitative", "scale": {"type": "log", "domain": [0.02107, 190.4], "nice": false}, "axis": null},
            "y2": {"field": "Fhi"}
          }
        },
        {
          "data": {"name": "soft"},
          "mark": {"type": "point", "shape": "triangle-up", "filled": true, "size": 420, "color": "#ff9500", "opacity": 1, "clip": true},
          "encoding": {
            "x": {"field": "E", "type": "quantitative", "scale": {"type": "log", "domain": [3.39e-8, 265.6], "nice": false}, "axis": null},
            "y": {"field": "F", "type": "quantitative", "scale": {"type": "log", "domain": [0.02107, 190.4], "nice": false}, "axis": null}
          }
        },
        {
          "data": {"name": "hard"},
          "mark": {"type": "rule", "color": "#1432ff", "strokeWidth": 3.5, "clip": true},
          "encoding": {
            "x": {"field": "E", "type": "quantitative", "scale": {"type": "log", "domain": [3.39e-8, 265.6], "nice": false}, "axis": null},
            "y": {"field": "Flo", "type": "quantitative", "scale": {"type": "log", "domain": [0.02107, 190.4], "nice": false}, "axis": null},
            "y2": {"field": "Fhi"}
          }
        },
        {
          "data": {"name": "hard"},
          "mark": {"type": "point", "shape": "circle", "filled": false, "size": 220, "strokeWidth": 3.5, "color": "#1432ff", "opacity": 1, "clip": true},
          "encoding": {
            "x": {"field": "E", "type": "quantitative", "scale": {"type": "log", "domain": [3.39e-8, 265.6], "nice": false}, "axis": null},
            "y": {"field": "F", "type": "quantitative", "scale": {"type": "log", "domain": [0.02107, 190.4], "nice": false}, "axis": null}
          }
        },
        {
          "data": {"name": "radio"},
          "mark": {"type": "rule", "color": "#ff2d8f", "strokeWidth": 2, "clip": true},
          "encoding": {
            "x": {"field": "E", "type": "quantitative", "scale": {"type": "log", "domain": [3.39e-8, 265.6], "nice": false}, "axis": null},
            "y": {"field": "Flo", "type": "quantitative", "scale": {"type": "log", "domain": [0.02107, 190.4], "nice": false}, "axis": null},
            "y2": {"field": "Fhi"}
          }
        },
        {
          "data": {"name": "radio"},
          "mark": {"type": "point", "shape": "square", "filled": false, "size": 324, "strokeWidth": 3, "color": "#ff2d8f", "opacity": 1, "clip": true},
          "encoding": {
            "x": {"field": "E", "type": "quantitative", "scale": {"type": "log", "domain": [3.39e-8, 265.6], "nice": false}, "axis": null},
            "y": {"field": "F", "type": "quantitative", "scale": {"type": "log", "domain": [0.02107, 190.4], "nice": false}, "axis": null}
          }
        },
        {
          "data": {"name": "cutoff"},
          "mark": {"type": "rule", "color": "#ff2400", "strokeWidth": 4, "strokeDash": [28, 13], "clip": true},
          "encoding": {
            "x": {"field": "E", "type": "quantitative", "scale": {"type": "log", "domain": [3.39e-8, 265.6], "nice": false},
              "axis": {"orient": "top", "labels": false, "title": null, "tickCount": 120,
                "tickSize": {"condition": {"test": "abs(log(datum.value)/LN10-round(log(datum.value)/LN10))<0.000001", "value": -17}, "value": -9}}},
            "y": {"field": "Flo", "type": "quantitative", "scale": {"type": "log", "domain": [0.02107, 190.4], "nice": false},
              "axis": {"orient": "right", "labels": false, "title": null, "tickCount": 60,
                "tickSize": {"condition": {"test": "abs(log(datum.value)/LN10-round(log(datum.value)/LN10))<0.000001", "value": -17}, "value": -9}}},
            "y2": {"field": "Fhi"}
          }
        },
        {
          "data": {"name": "disk"},
          "mark": {"type": "line", "color": "#ff2400", "strokeWidth": 4, "strokeDash": [16, 11], "clip": true},
          "encoding": {
            "x": {"field": "E", "type": "quantitative", "scale": {"type": "log", "domain": [3.39e-8, 265.6], "nice": false}, "axis": null},
            "y": {"field": "F", "type": "quantitative", "scale": {"type": "log", "domain": [0.02107, 190.4], "nice": false}, "axis": null}
          }
        },
        {
          "data": {"name": "model"},
          "mark": {"type": "line", "color": "#ff2400", "strokeWidth": 4.5, "interpolate": "monotone", "clip": true},
          "encoding": {
            "x": {"field": "E", "type": "quantitative", "scale": {"type": "log", "domain": [3.39e-8, 265.6], "nice": false},
              "axis": {"orient": "bottom", "labels": false, "title": null, "tickCount": 120,
                "tickSize": {"condition": {"test": "abs(log(datum.value)/LN10-round(log(datum.value)/LN10))<0.000001", "value": -17}, "value": -9}}},
            "y": {"field": "F", "type": "quantitative", "scale": {"type": "log", "domain": [0.02107, 190.4], "nice": false},
              "axis": {"orient": "left", "tickCount": 60,
                "tickSize": {"condition": {"test": "abs(log(datum.value)/LN10-round(log(datum.value)/LN10))<0.000001", "value": -17}, "value": -9},
                "labelExpr": "abs(log(datum.value)/LN10-round(log(datum.value)/LN10))<0.000001 ? ['0.01','0.1','1','10','100'][round(log(datum.value)/LN10)+2] : ''",
                "labelAngle": 270, "labelAlign": "center", "labelBaseline": "alphabetic", "labelPadding": 39,
                "title": "keV Photons sec⁻¹ cm⁻² keV⁻¹",
                "titleFont": "Liberation Mono", "titleFontWeight": "bold", "titleFontSize": 34,
                "titleAngle": 270, "titleAlign": "center", "titleBaseline": "alphabetic",
                "titleX": -72, "titleY": 353}}
          }
        }
      ]
    },
    {
      "width": 1220,
      "height": 245,
      "resolve": {"axis": {"x": "independent", "y": "independent"}},
      "layer": [
        {
          "data": {"values": [{}]},
          "mark": {"type": "rule", "color": "black", "strokeWidth": 3, "strokeDash": [20, 13]},
          "encoding": {
            "y": {"datum": 0, "type": "quantitative", "scale": {"type": "linear", "domain": [-4, 4], "nice": false, "zero": false}, "axis": null}
          }
        },
        {
          "data": {"name": "radio"},
          "mark": {"type": "rule", "color": "#ff2d8f", "strokeWidth": 3, "clip": true},
          "encoding": {
            "x": {"field": "E", "type": "quantitative", "scale": {"type": "log", "domain": [3.39e-8, 265.6], "nice": false}, "axis": null},
            "y": {"field": "chiLo", "type": "quantitative", "scale": {"type": "linear", "domain": [-4, 4], "nice": false, "zero": false}, "axis": null},
            "y2": {"field": "chiHi"}
          }
        },
        {
          "data": {"name": "radio"},
          "mark": {"type": "point", "shape": "square", "filled": false, "size": 324, "strokeWidth": 3, "color": "#ff2d8f", "opacity": 1, "clip": true},
          "encoding": {
            "x": {"field": "E", "type": "quantitative", "scale": {"type": "log", "domain": [3.39e-8, 265.6], "nice": false}, "axis": null},
            "y": {"field": "chi", "type": "quantitative", "scale": {"type": "linear", "domain": [-4, 4], "nice": false, "zero": false}, "axis": null}
          }
        },
        {
          "data": {"name": "soft"},
          "mark": {"type": "rule", "color": "#ff9500", "strokeWidth": 3.5, "clip": true},
          "encoding": {
            "x": {"field": "E", "type": "quantitative", "scale": {"type": "log", "domain": [3.39e-8, 265.6], "nice": false}, "axis": null},
            "y": {"field": "chiLo", "type": "quantitative", "scale": {"type": "linear", "domain": [-4, 4], "nice": false, "zero": false}, "axis": null},
            "y2": {"field": "chiHi"}
          }
        },
        {
          "data": {"name": "soft"},
          "mark": {"type": "point", "shape": "triangle-up", "filled": true, "size": 420, "color": "#ff9500", "opacity": 1, "clip": true},
          "encoding": {
            "x": {"field": "E", "type": "quantitative", "scale": {"type": "log", "domain": [3.39e-8, 265.6], "nice": false},
              "axis": {"orient": "bottom", "tickCount": 120,
                "tickSize": {"condition": {"test": "abs(log(datum.value)/LN10-round(log(datum.value)/LN10))<0.000001", "value": -17}, "value": -9},
                "labelExpr": "abs(log(datum.value)/LN10-round(log(datum.value)/LN10))<0.000001 ? ['10⁻⁸','10⁻⁷','10⁻⁶','10⁻⁵','10⁻⁴','10⁻³','0.01','0.1','1','10','100'][round(log(datum.value)/LN10)+8] : ''",
                "labelAlign": "center", "labelBaseline": "alphabetic", "labelPadding": 60,
                "title": "Energy (keV)",
                "titleFont": "Liberation Mono", "titleFontWeight": "bold", "titleFontSize": 33,
                "titleAlign": "center", "titleBaseline": "alphabetic", "titleX": 620, "titleY": 110}},
            "y": {"field": "chi", "type": "quantitative", "scale": {"type": "linear", "domain": [-4, 4], "nice": false, "zero": false},
              "axis": {"orient": "left", "values": [-4, -3, -2, -1, 0, 1, 2, 3, 4],
                "tickSize": {"condition": {"test": "datum.value % 2 == 0", "value": -17}, "value": -9},
                "labelExpr": "datum.value % 2 == 0 ? (datum.value < 0 ? '−' + abs(datum.value) : '' + datum.value) : ''",
                "labelAngle": 270, "labelAlign": "center", "labelBaseline": "alphabetic", "labelPadding": 39,
                "title": "χ", "titleFont": "Liberation Sans", "titleFontWeight": "bold", "titleFontSize": 34,
                "titleAngle": 270, "titleAlign": "center", "titleBaseline": "alphabetic", "titleX": -76, "titleY": 122}}
          }
        },
        {
          "data": {"name": "hard"},
          "mark": {"type": "rule", "color": "#1432ff", "strokeWidth": 3.5, "clip": true},
          "encoding": {
            "x": {"field": "E", "type": "quantitative", "scale": {"type": "log", "domain": [3.39e-8, 265.6], "nice": false}, "axis": null},
            "y": {"field": "chiLo", "type": "quantitative", "scale": {"type": "linear", "domain": [-4, 4], "nice": false, "zero": false}, "axis": null},
            "y2": {"field": "chiHi"}
          }
        },
        {
          "data": {"name": "hard"},
          "mark": {"type": "point", "shape": "circle", "filled": false, "size": 220, "strokeWidth": 3.5, "color": "#1432ff", "opacity": 1, "clip": true},
          "encoding": {
            "x": {"field": "E", "type": "quantitative", "scale": {"type": "log", "domain": [3.39e-8, 265.6], "nice": false},
              "axis": {"orient": "top", "labels": false, "title": null, "tickCount": 120,
                "tickSize": {"condition": {"test": "abs(log(datum.value)/LN10-round(log(datum.value)/LN10))<0.000001", "value": -17}, "value": -9}}},
            "y": {"field": "chi", "type": "quantitative", "scale": {"type": "linear", "domain": [-4, 4], "nice": false, "zero": false},
              "axis": {"orient": "right", "labels": false, "title": null, "values": [-4, -3, -2, -1, 0, 1, 2, 3, 4],
                "tickSize": {"condition": {"test": "datum.value % 2 == 0", "value": -17}, "value": -9}}}
          }
        }
      ]
    }
  ]
}
